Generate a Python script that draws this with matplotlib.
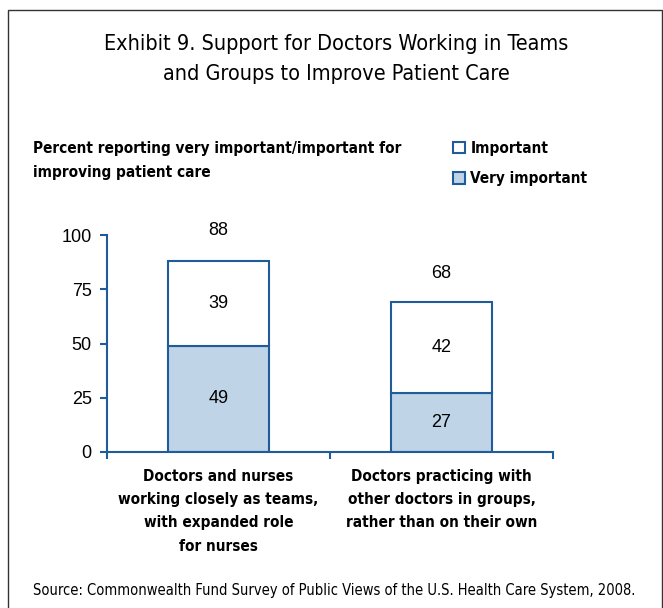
import matplotlib

matplotlib.use("Agg")
import matplotlib.font_manager as fm
import matplotlib.pyplot as plt
from matplotlib.patches import Patch, Rectangle

# ── Data ───────────────────────────────────────────────────────────────

categories = [
    "Doctors and nurses\nworking closely as teams,\nwith expanded role\nfor nurses",
    "Doctors practicing with\nother doctors in groups,\nrather than on their own",
]
very_important = [49, 27]
important = [39, 42]
totals = [88, 68]
y_ticks = [0, 25, 50, 75, 100]

# ── Style ──────────────────────────────────────────────────────────────

EDGE = "#1F5C99"
FILL = "#BFD4E6"
NARROW = "DejaVu Sans"
REG = "Liberation Sans"

fig = plt.figure(figsize=(6.63, 6.08), dpi=100)
W, H = 663, 608


def fx(px):
    return px / W


def fy(py):
    return 1 - py / H


def narrow(size, bold=False):
    return fm.FontProperties(family=NARROW, stretch="condensed", size=size,
                             weight="bold" if bold else "normal")


# outer frame
fig.patches.append(
    Rectangle((fx(8), fy(640)), fx(654), fy(10) - fy(640), transform=fig.transFigure,
              fill=False, edgecolor="#333333", linewidth=1.0)
)

fig.text(fx(336), fy(44), "Exhibit 9. Support for Doctors Working in Teams",
         ha="center", va="center", fontproperties=narrow(15.5))
fig.text(fx(336), fy(74), "and Groups to Improve Patient Care",
         ha="center", va="center", fontproperties=narrow(15.5))

fig.text(fx(33), fy(148), "Percent reporting very important/important for",
         ha="left", va="center", fontproperties=narrow(11, True))
fig.text(fx(33), fy(172), "improving patient care",
         ha="left", va="center", fontproperties=narrow(11, True))

ax = fig.add_axes([fx(107), fy(452), fx(553) - fx(107), fy(235) - fy(452)])

x = range(len(categories))
ax.bar(x, very_important, width=0.45, color=FILL, edgecolor=EDGE, linewidth=1.5,
       label="Very important")
ax.bar(x, important, bottom=very_important, width=0.45, color="white",
       edgecolor=EDGE, linewidth=1.5, label="Important")

for i in x:
    ax.text(i, very_important[i] / 2, str(very_important[i]), ha="center",
            va="center", fontsize=13, family=REG)
    ax.text(i, very_important[i] + important[i] / 2, str(important[i]),
            ha="center", va="center", fontsize=13, family=REG)
    ax.annotate(str(totals[i]), (i, totals[i]), xytext=(0, 22),
                textcoords="offset points", ha="center", va="center",
                fontsize=13, family=REG)

ax.set_xlim(-0.5, 1.5)
ax.set_ylim(0, 100)
ax.set_yticks(y_ticks)
ax.set_yticklabels([str(t) for t in y_ticks], fontsize=13, family=REG)
ax.set_xticks([-0.5, 0.5, 1.5])
ax.set_xticklabels([])
ax.tick_params(axis="y", length=5, color=EDGE, width=1.5, pad=6)
ax.tick_params(axis="x", length=5, color=EDGE, width=1.5)
for s in ["top", "right"]:
    ax.spines[s].set_visible(False)
for s in ["left", "bottom"]:
    ax.spines[s].set_color(EDGE)
    ax.spines[s].set_linewidth(1.5)

for i, cat in enumerate(categories):
    ax.annotate(cat, (i, 0), xytext=(0, -12), textcoords="offset points",
                ha="center", va="top", fontproperties=narrow(11, True),
                linespacing=1.7, annotation_clip=False)

handles = [
    Patch(facecolor="white", edgecolor=EDGE, linewidth=1.5, label="Important"),
    Patch(facecolor=FILL, edgecolor=EDGE, linewidth=1.5, label="Very important"),
]
fig.legend(handles=handles, loc="upper left", bbox_to_anchor=(fx(439), fy(127)),
           frameon=False, handlelength=0.8, handleheight=0.8, handletextpad=0.35,
           labelspacing=1.0, prop=narrow(11, True))

fig.text(fx(33), fy(591),
         "Source: Commonwealth Fund Survey of Public Views of the U.S. Health Care System, 2008.",
         ha="left", va="center", fontproperties=narrow(10.5))

fig.savefig("out.png", dpi=100)
